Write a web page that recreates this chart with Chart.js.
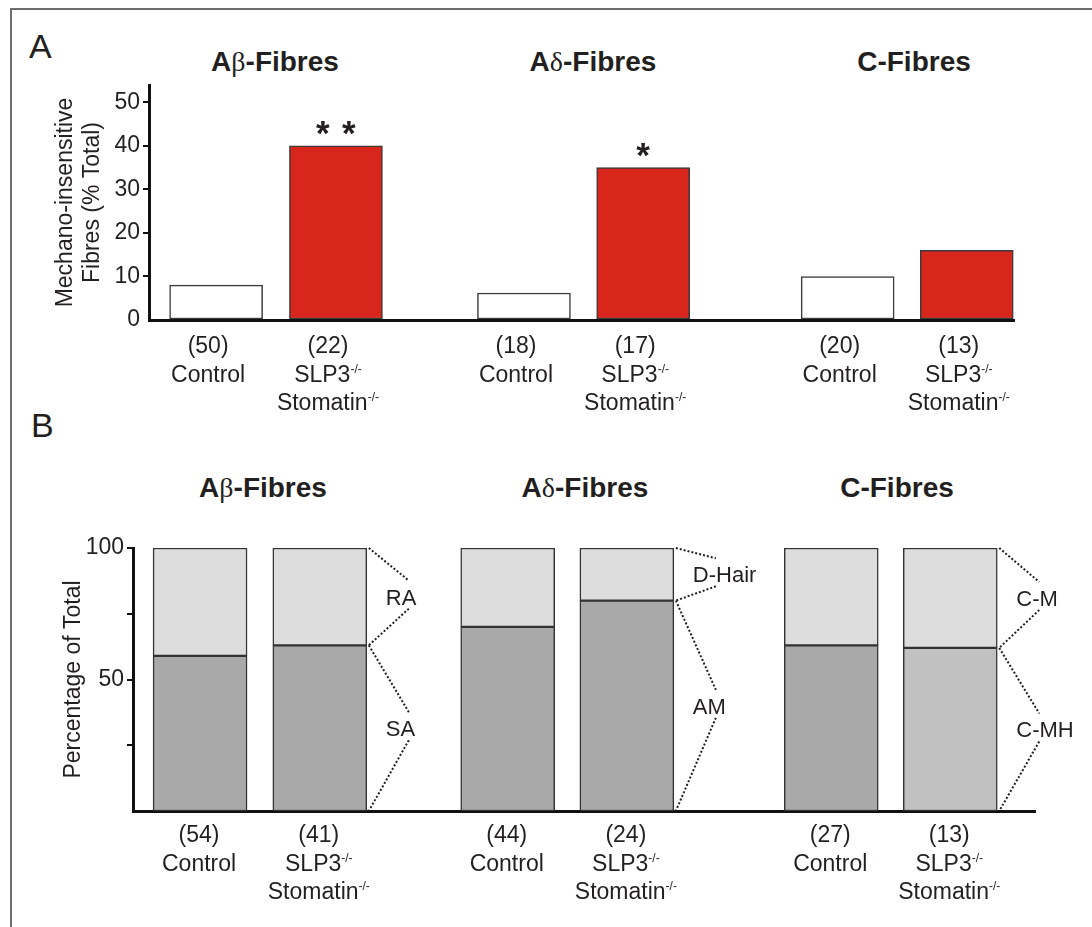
<!DOCTYPE html>
<html>
<head>
<meta charset="utf-8">
<script src="https://cdn.jsdelivr.net/npm/chart.js@4.4.1/dist/chart.umd.min.js"></script>
<style>
body { margin: 0; background: #fff; }
#page { position: relative; width: 1092px; height: 927px; overflow: hidden; font-family: "Liberation Sans", Arial, sans-serif; color: #231f20; }
#frame { position: absolute; left: 10px; top: 8px; right: -4px; bottom: -4px; border-top: 2px solid #6d6d6d; border-left: 2px solid #6d6d6d; }
.letter { position: absolute; font-size: 34px; line-height: 1; }
.title { position: absolute; font-size: 28px; font-weight: bold; line-height: 1; transform: translateX(-50%); white-space: nowrap; }
.title .g { font-family: "Liberation Serif", serif; font-weight: normal; }
canvas { position: absolute; left: 0; }
</style>
</head>
<body>
<div id="page">
  <div id="frame"></div>
  <div class="letter" style="left:29px; top:29px;">A</div>
  <div class="letter" style="left:31px; top:408px;">B</div>

  <div class="title" style="left:275px; top:48px;">A<span class="g">β</span>-Fibres</div>
  <div class="title" style="left:593px; top:48px;">A<span class="g">δ</span>-Fibres</div>
  <div class="title" style="left:914px; top:48px;">C-Fibres</div>

  <div class="title" style="left:263px; top:474px;">A<span class="g">β</span>-Fibres</div>
  <div class="title" style="left:585px; top:474px;">A<span class="g">δ</span>-Fibres</div>
  <div class="title" style="left:897px; top:474px;">C-Fibres</div>

  <canvas id="chartA" width="1092" height="430" style="top:0;"></canvas>
  <canvas id="chartB" width="1092" height="497" style="top:430px;"></canvas>
</div>
<script>
// --- data ---
const strains = ['Control', 'SLP3', 'Control', 'SLP3', 'Control', 'SLP3'];
const countsA = ['(50)', '(22)', '(18)', '(17)', '(20)', '(13)'];
const insensitive = [8, 40, 6.2, 35, 10, 16];
const sigA = ['', '* *', '', '*', '', ''];
const ticksA = [0, 10, 20, 30, 40, 50];

const countsB = ['(54)', '(41)', '(44)', '(24)', '(27)', '(13)'];
const lowerPart = [59, 63, 70, 80, 63, 62];   // SA / AM / C-MH
const upperPart = [41, 37, 30, 20, 37, 38];   // RA / D-Hair / C-M
const subtypeNames = [['RA', 'SA'], ['D-Hair', 'AM'], ['C-M', 'C-MH']];
const ticksB = [25, 50, 75, 100];
const labelledB = [50, 100];

// --- layout / style ---
const slotPos = [0.554, 1.543, 3.095, 4.079, 5.767, 6.75];
const TEXT = '#231f20';
const FONT = '"Liberation Sans", Arial, sans-serif';
const strainLines = {
    Control: [['Control', '']],
    SLP3: [['SLP3', '-/-'], ['Stomatin', '-/-']]
};
const lowerColors = ['#a9a9a9', '#a9a9a9', '#a9a9a9', '#a9a9a9', '#a9a9a9', '#c1c1c1'];

Chart.defaults.font.family = FONT;
Chart.defaults.color = TEXT;

function drawSup(ctx, main, sup, cx, y) {
    ctx.font = `23px ${FONT}`;
    const w1 = ctx.measureText(main).width;
    ctx.font = `12px ${FONT}`;
    const w2 = sup ? ctx.measureText(sup).width : 0;
    const x0 = cx - (w1 + w2) / 2;
    ctx.textAlign = 'left';
    ctx.font = `23px ${FONT}`;
    ctx.fillText(main, x0, y);
    if (sup) {
        ctx.font = `12px ${FONT}`;
        ctx.fillText(sup, x0 + w1, y - 9);
    }
}

function barLabels(counts, offsets, shift) {
    return {
        id: 'barLabels',
        afterDraw(chart) {
            const {ctx} = chart;
            const xs = chart.scales.x;
            const base = chart.chartArea.bottom;
            ctx.save();
            ctx.fillStyle = TEXT;
            ctx.textBaseline = 'alphabetic';
            strains.forEach((s, i) => {
                const cx = xs.getPixelForValue(slotPos[i]) + shift;
                drawSup(ctx, counts[i], '', cx, base + offsets[0]);
                strainLines[s].forEach((ln, k) => drawSup(ctx, ln[0], ln[1], cx, base + offsets[k + 1]));
            });
            ctx.restore();
        }
    };
}

function yTitle(lines, xs) {
    return {
        id: 'yTitle',
        afterDraw(chart) {
            const {ctx, chartArea} = chart;
            const cy = (chartArea.top + chartArea.bottom) / 2;
            ctx.save();
            ctx.fillStyle = TEXT;
            ctx.font = `23px ${FONT}`;
            ctx.textAlign = 'center';
            ctx.textBaseline = 'alphabetic';
            lines.forEach((t, k) => {
                ctx.save();
                ctx.translate(xs[k], cy);
                ctx.rotate(-Math.PI / 2);
                ctx.fillText(t, 0, 0);
                ctx.restore();
            });
            ctx.restore();
        }
    };
}

const stars = {
    id: 'stars',
    afterDatasetsDraw(chart) {
        const {ctx} = chart;
        ctx.save();
        ctx.fillStyle = TEXT;
        ctx.font = `bold 35px ${FONT}`;
        ctx.textAlign = 'center';
        ctx.textBaseline = 'alphabetic';
        chart.getDatasetMeta(0).data.forEach((bar, i) => {
            if (!sigA[i]) return;
            const parts = sigA[i].split(' ');
            parts.forEach((p, k) => {
                const dx = (k - (parts.length - 1) / 2) * 26;
                ctx.fillText(p, bar.x + dx, bar.y - 1);
            });
        });
        ctx.restore();
    }
};

const BAR_B = 94;
const connectors = {
    id: 'connectors',
    afterDatasetsDraw(chart) {
        const {ctx} = chart;
        const xs = chart.scales.x, ys = chart.scales.y;
        ctx.save();
        ctx.strokeStyle = TEXT;
        ctx.fillStyle = TEXT;
        ctx.lineWidth = 2;
        ctx.setLineDash([2, 2]);
        ctx.font = `22px ${FONT}`;
        ctx.textAlign = 'left';
        ctx.textBaseline = 'alphabetic';
        subtypeNames.forEach((names, g) => {
            const i = g * 2 + 1;
            const right = xs.getPixelForValue(slotPos[i]) + BAR_B / 2;
            const bounds = [100, lowerPart[i], 0].map(v => ys.getPixelForValue(v));
            for (let k = 0; k < 2; k++) {
                const top = bounds[k], bot = bounds[k + 1], mid = (top + bot) / 2;
                ctx.beginPath();
                ctx.moveTo(right + 2, top);
                ctx.lineTo(right + 42, mid - 16);
                ctx.stroke();
                ctx.beginPath();
                ctx.moveTo(right + 42, mid + 12);
                ctx.lineTo(right + 2, bot);
                ctx.stroke();
                ctx.fillText(names[k], right + 19, mid + 8);
            }
        });
        ctx.restore();
    }
};

const axisLine = {display: true, width: 3, color: '#111'};

// Panel A
new Chart(document.getElementById('chartA'), {
    type: 'bar',
    data: {
        datasets: [{
            data: insensitive.map((v, i) => ({x: slotPos[i], y: v})),
            backgroundColor: strains.map(s => s === 'Control' ? '#ffffff' : '#d9261c'),
            borderColor: '#3a3a3a',
            borderWidth: 1.5,
            borderSkipped: false,
            barThickness: 93
        }]
    },
    options: {
        responsive: false,
        animation: false,
        layout: {padding: {left: 0, right: 78, top: 85, bottom: 110}},
        plugins: {legend: {display: false}, tooltip: {enabled: false}},
        scales: {
            x: {
                type: 'linear', min: 0, max: 7.14, offset: false,
                grid: {display: false},
                ticks: {display: false},
                border: axisLine,
                afterFit: s => { s.height = 0; }
            },
            y: {
                min: 0, max: 54,
                afterBuildTicks: s => { s.ticks = ticksA.map(v => ({value: v})); },
                ticks: {color: TEXT, font: {size: 23}, padding: 3},
                grid: {
                    drawOnChartArea: false, drawTicks: true, tickLength: 6, lineWidth: 2,
                    color: c => (c.tick && c.tick.value === 0) ? 'rgba(0,0,0,0)' : '#111'
                },
                border: axisLine,
                afterFit: s => { s.width = 149; }
            }
        }
    },
    plugins: [stars, barLabels(countsA, [33, 62, 90], -8), yTitle(['Mechano-insensitive', 'Fibres (% Total)'], [72, 99])]
});

// Panel B
new Chart(document.getElementById('chartB'), {
    type: 'bar',
    data: {
        datasets: [{
            data: lowerPart.map((v, i) => ({x: slotPos[i], y: v})),
            backgroundColor: lowerColors,
            borderColor: '#333',
            borderWidth: 1.5,
            borderSkipped: false,
            barThickness: BAR_B
        }, {
            data: upperPart.map((v, i) => ({x: slotPos[i], y: v})),
            backgroundColor: '#dddddd',
            borderColor: '#333',
            borderWidth: 1.5,
            borderSkipped: false,
            barThickness: BAR_B
        }]
    },
    options: {
        responsive: false,
        animation: false,
        layout: {padding: {left: 0, right: 57, top: 118, bottom: 116}},
        plugins: {legend: {display: false}, tooltip: {enabled: false}},
        scales: {
            x: {
                type: 'linear', min: 0, max: 7.45, stacked: true, offset: false,
                grid: {display: false},
                ticks: {display: false},
                border: axisLine,
                afterFit: s => { s.height = 0; }
            },
            y: {
                min: 0, max: 100, stacked: true,
                afterBuildTicks: s => { s.ticks = ticksB.map(v => ({value: v})); },
                ticks: {
                    color: TEXT, font: {size: 23}, padding: 3,
                    callback: v => labelledB.includes(v) ? String(v) : ''
                },
                grid: {drawOnChartArea: false, drawTicks: true, tickLength: 6, lineWidth: 2, color: '#111'},
                border: axisLine,
                afterFit: s => { s.width = 133; }
            }
        }
    },
    plugins: [connectors, barLabels(countsB, [31, 60, 88], -1), yTitle(['Percentage of Total'], [80])]
});
</script>
</body>
</html>
